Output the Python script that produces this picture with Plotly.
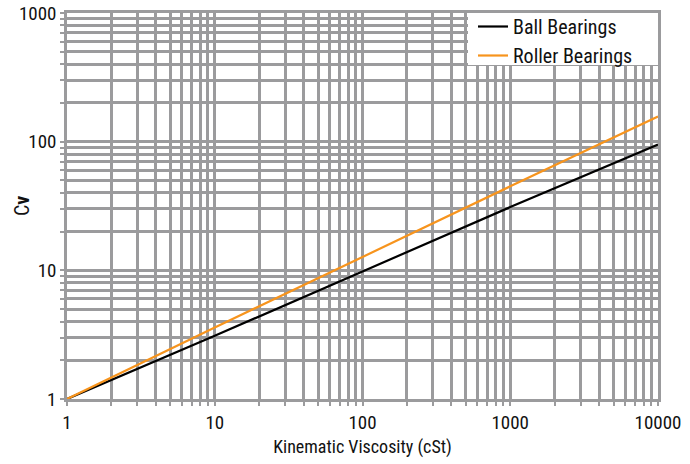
import plotly.graph_objects as go

viscosity = [1, 10, 100, 1000, 10000]
ball_cv = [1, 3.1, 9.8, 31, 95]
roller_cv = [1, 3.6, 12.7, 45, 157]

x_tickvals = [m * 10**d for d in range(0, 4) for m in range(1, 10)] + [10000]
x_ticktext = [str(v) if v in (1, 10, 100, 1000, 10000) else "" for v in x_tickvals]
y_tickvals = [m * 10**d for d in range(0, 3) for m in range(1, 10)] + [1000]
y_ticktext = [str(v) if v in (1, 10, 100, 1000) else "" for v in y_tickvals]

FONT = "Roboto Condensed, Liberation Sans Narrow, Arial Narrow, sans-serif"
GRID = "#9b9b9d"
TEXT = "#111111"

fig = go.Figure()
fig.add_trace(go.Scatter(x=viscosity, y=ball_cv, mode="lines", name="Ball Bearings",
                         line=dict(color="#000000", width=2.2)))
fig.add_trace(go.Scatter(x=viscosity, y=roller_cv, mode="lines", name="Roller Bearings",
                         line=dict(color="#F7941D", width=2.2)))

PW, PH = 591, 386  # plot area size in px (690-67-32, 464-13-65)

fig.update_layout(
    width=690, height=464,
    margin=dict(l=67, r=32, t=13, b=65, autoexpand=False),
    paper_bgcolor="white", plot_bgcolor="white",
    font=dict(family=FONT, size=19, color=TEXT),
    showlegend=True,
    legend=dict(x=(473 - 67) / PW, y=1 + 6 / PH, xanchor="left", yanchor="top",
                bgcolor="rgba(0,0,0,0)", borderwidth=0,
                font=dict(size=20, family=FONT, color=TEXT),
                itemwidth=30, tracegroupgap=0),
)
# white backing box behind the legend (covers the grid)
fig.add_shape(type="rect", xref="paper", yref="paper",
              x0=(468 - 67) / PW, x1=1, y0=1 - 52 / PH, y1=1,
              fillcolor="white", line=dict(width=0), layer="above")

axis_common = dict(type="log", showgrid=True, gridcolor=GRID, gridwidth=2.5,
                   showline=True, linecolor=GRID, linewidth=2.5, mirror=True,
                   ticks="outside", ticklen=4, tickcolor=GRID, tickwidth=2,
                   zeroline=False, automargin=False)
fig.update_xaxes(range=[0, 4], tickvals=x_tickvals, ticktext=x_ticktext,
                 title=dict(text="Kinematic Viscosity (cSt)", font=dict(size=18), standoff=8),
                 **axis_common)
fig.update_yaxes(range=[0, 3], tickvals=y_tickvals, ticktext=y_ticktext, **axis_common)

fig.add_annotation(text="C<b>v</b>", textangle=-90, xref="paper", yref="paper",
                   x=(22 - 67) / PW, y=0.5, xanchor="center", yanchor="middle",
                   showarrow=False, font=dict(size=20, family=FONT, color=TEXT))

fig.write_html("out.html", config={"displayModeBar": False},
               post_script="document.body.style.margin='0px';")
